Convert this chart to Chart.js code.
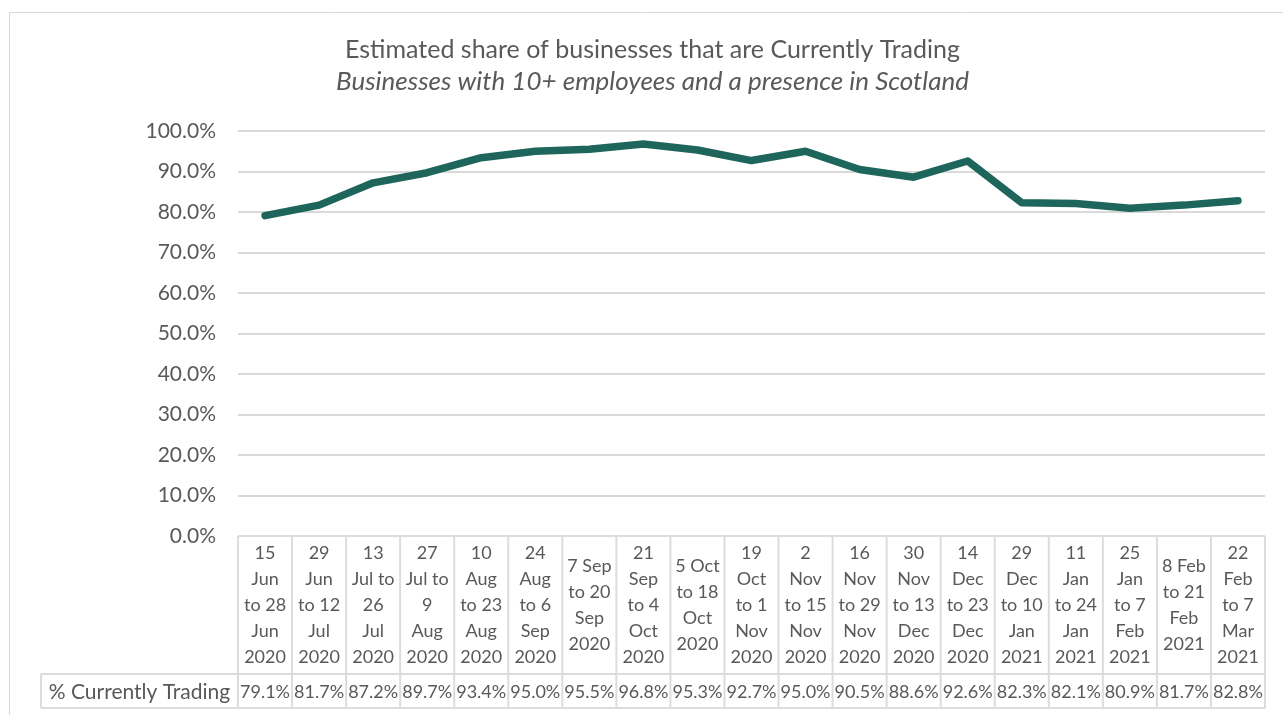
<!DOCTYPE html>
<html>
<head>
<meta charset="utf-8">
<script src="https://cdn.jsdelivr.net/npm/chart.js@4/dist/chart.umd.min.js"></script>
<style>
  html, body { margin: 0; padding: 0; background: #ffffff; }
  #wrap { width: 1283px; height: 715px; position: relative; }
</style>
</head>
<body>
<div id="wrap"><canvas id="c"></canvas></div>
<script>
const categories = [
  ["15", "Jun", "to 28", "Jun", "2020"],
  ["29", "Jun", "to 12", "Jul", "2020"],
  ["13", "Jul to", "26", "Jul", "2020"],
  ["27", "Jul to", "9", "Aug", "2020"],
  ["10", "Aug", "to 23", "Aug", "2020"],
  ["24", "Aug", "to 6", "Sep", "2020"],
  ["7 Sep", "to 20", "Sep", "2020"],
  ["21", "Sep", "to 4", "Oct", "2020"],
  ["5 Oct", "to 18", "Oct", "2020"],
  ["19", "Oct", "to 1", "Nov", "2020"],
  ["2", "Nov", "to 15", "Nov", "2020"],
  ["16", "Nov", "to 29", "Nov", "2020"],
  ["30", "Nov", "to 13", "Dec", "2020"],
  ["14", "Dec", "to 23", "Dec", "2020"],
  ["29", "Dec", "to 10", "Jan", "2021"],
  ["11", "Jan", "to 24", "Jan", "2021"],
  ["25", "Jan", "to 7", "Feb", "2021"],
  ["8 Feb", "to 21", "Feb", "2021"],
  ["22", "Feb", "to 7", "Mar", "2021"]
];
const seriesName = "% Currently Trading";
const currentlyTrading = [79.1, 81.7, 87.2, 89.7, 93.4, 95.0, 95.5, 96.8, 95.3, 92.7, 95.0, 90.5, 88.6, 92.6, 82.3, 82.1, 80.9, 81.7, 82.8];
const titleText = "Estimated share of businesses that are Currently Trading";
const subtitleText = "Businesses with 10+ employees and a presence in Scotland";
const yMin = 0, yMax = 100, yStep = 10;

const FONT = "Lato, 'Open Sans', sans-serif";
const TEXT = "#595959";
const GRID = "#d9d9d9";
const LINE = "#1e665b";

const tablePlugin = {
  id: 'dataTable',
  afterDraw(chart) {
    const ctx = chart.ctx;
    const x = chart.scales.x;
    const area = chart.chartArea;
    const n = categories.length;
    const step = x.getPixelForValue(1) - x.getPixelForValue(0);
    const half = step / 2;
    const top = area.bottom;
    const catBottom = top + 138;
    const valBottom = catBottom + 34;
    const leftCell = 41;
    const xLeft = x.getPixelForValue(0) - half;
    const xRight = x.getPixelForValue(n - 1) + half;

    // outer chart border
    ctx.save();
    ctx.strokeStyle = GRID;
    ctx.lineWidth = 1;
    ctx.beginPath();
    ctx.moveTo(9.5, 800);
    ctx.lineTo(9.5, 12.5);
    ctx.lineTo(1300, 12.5);
    ctx.stroke();

    // table grid
    ctx.lineWidth = 2;
    ctx.strokeStyle = "#dcdcdc";
    ctx.beginPath();
    ctx.moveTo(xLeft, top); ctx.lineTo(xRight, top);
    ctx.moveTo(leftCell, catBottom); ctx.lineTo(xRight, catBottom);
    ctx.moveTo(leftCell, valBottom); ctx.lineTo(xRight, valBottom);
    ctx.moveTo(leftCell, catBottom); ctx.lineTo(leftCell, valBottom);
    for (let i = 0; i <= n; i++) {
      const bx = x.getPixelForValue(i) - half;
      ctx.moveTo(bx, top); ctx.lineTo(bx, valBottom);
    }
    ctx.stroke();

    // category labels
    ctx.fillStyle = TEXT;
    ctx.font = "18px " + FONT;
    ctx.textAlign = "center";
    ctx.textBaseline = "middle";
    const lh = 26;
    const midCat = (top + catBottom) / 2;
    categories.forEach((lines, i) => {
      const cx = x.getPixelForValue(i);
      const y0 = midCat - (lines.length - 1) * lh / 2;
      lines.forEach((t, k) => ctx.fillText(t, cx, y0 + k * lh));
    });
    // values row
    const midVal = (catBottom + valBottom) / 2 + 1;
    currentlyTrading.forEach((v, i) => {
      ctx.fillText(v.toFixed(1) + "%", x.getPixelForValue(i), midVal);
    });
    ctx.font = "21px " + FONT;
    ctx.fillText(seriesName, (leftCell + xLeft) / 2, midVal);
    ctx.restore();
  }
};

new Chart(document.getElementById('c'), {
  type: 'line',
  data: {
    labels: categories,
    datasets: [{
      label: seriesName,
      data: currentlyTrading,
      borderColor: LINE,
      backgroundColor: LINE,
      borderWidth: 7.5,
      borderCapStyle: 'round',
      borderJoinStyle: 'round',
      pointRadius: 0,
      pointHoverRadius: 0,
      tension: 0
    }]
  },
  options: {
    responsive: true,
    maintainAspectRatio: false,
    animation: false,
    events: [],
    layout: { padding: { left: 40, right: 18, top: 12, bottom: 179 } },
    plugins: {
      legend: { display: false },
      tooltip: { enabled: false },
      title: {
        display: true,
        text: titleText,
        color: TEXT,
        font: { family: FONT, size: 25, weight: 'normal' },
        padding: { top: 23, bottom: 1 }
      },
      subtitle: {
        display: true,
        text: subtitleText,
        color: TEXT,
        font: { family: FONT, size: 26, style: 'italic', weight: 'normal' },
        padding: { top: 0.4, bottom: 33.4 }
      }
    },
    scales: {
      x: {
        type: 'category',
        offset: true,
        grid: { display: false },
        border: { display: false },
        ticks: { display: false },
        afterFit(s) { s.height = 0; }
      },
      y: {
        min: yMin,
        max: yMax,
        grid: { color: GRID, lineWidth: 2, drawTicks: false },
        border: { display: false },
        ticks: {
          stepSize: yStep,
          padding: 22,
          color: TEXT,
          font: { family: FONT, size: 21 },
          callback: v => v.toFixed(1) + "%"
        },
        afterFit(s) { s.width = 198; }
      }
    }
  },
  plugins: [tablePlugin]
});
</script>
</body>
</html>
